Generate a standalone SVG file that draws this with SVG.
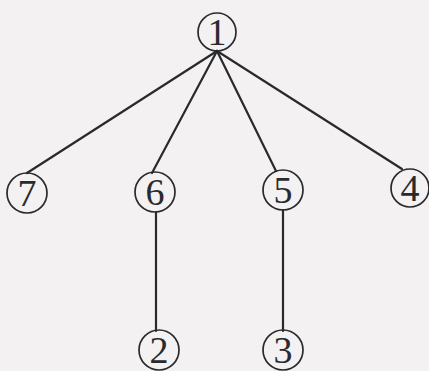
<svg xmlns="http://www.w3.org/2000/svg" width="429" height="371" viewBox="0 0 429 371">
<style>
.n circle{fill:none;stroke:#2a2a2e;stroke-width:1.7}
.n text{font-family:"Liberation Serif","DejaVu Serif",serif;font-size:38px;fill:#2a2a2e;text-anchor:middle}
#edges line{stroke:#2a2a2e;stroke-width:2.2;stroke-linecap:round}
</style>
<rect width="429" height="371" fill="#f3f1f2"/>
<g id="edges">
<line x1="217" y1="51" x2="27" y2="173"/>
<line x1="217" y1="51" x2="152" y2="173"/>
<line x1="217" y1="51" x2="276" y2="171"/>
<line x1="217" y1="51" x2="402" y2="169"/>
<line x1="156" y1="212" x2="156" y2="331"/>
<line x1="283" y1="210" x2="283" y2="331"/>
</g>
<g id="n1" class="n"><circle cx="217" cy="32" r="19"/><text x="217" y="45">1</text></g>
<g id="n7" class="n"><circle cx="27" cy="193" r="20"/><text x="27" y="206">7</text></g>
<g id="n6" class="n"><circle cx="155" cy="192" r="20"/><text x="155" y="205">6</text></g>
<g id="n5" class="n"><circle cx="283" cy="190" r="20"/><text x="283" y="203">5</text></g>
<g id="n4" class="n"><circle cx="410" cy="188" r="19"/><text x="410" y="201">4</text></g>
<g id="n2" class="n"><circle cx="159" cy="350" r="20"/><text x="159" y="363">2</text></g>
<g id="n3" class="n"><circle cx="283" cy="350" r="20"/><text x="283" y="363">3</text></g>
</svg>
